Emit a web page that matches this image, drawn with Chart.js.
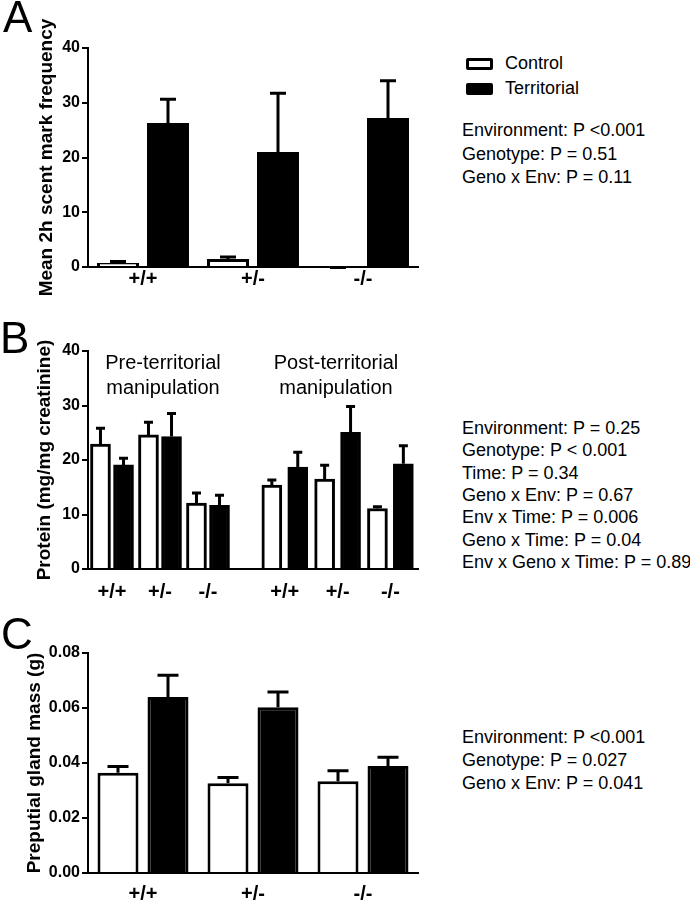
<!DOCTYPE html>
<html><head><meta charset="utf-8">
<script src="https://cdn.jsdelivr.net/npm/chart.js@4.4.1/dist/chart.umd.min.js"></script>
<style>
html,body{margin:0;padding:0;background:#fff;}
#wrap{position:relative;width:690px;height:904px;overflow:hidden;font-family:"Liberation Sans",Arial,sans-serif;color:#000;}
canvas{position:absolute;left:0;}
.letter{position:absolute;font-size:44px;line-height:1;}
.stats{position:absolute;left:462px;font-size:18px;white-space:nowrap;}
.note{position:absolute;width:200px;text-align:center;font-size:20px;line-height:25px;}
.leg{position:absolute;left:505px;font-size:18px;line-height:23px;}
.box{position:absolute;left:466px;width:21px;height:6px;border:3px solid #000;border-radius:2px;}
</style></head>
<body>
<div id="wrap">
  <canvas id="cA" width="430" height="295" style="top:0px"></canvas>
  <canvas id="cB" width="430" height="305" style="top:295px"></canvas>
  <canvas id="cC" width="430" height="304" style="top:600px"></canvas>

  <div class="letter" style="left:3px;top:-5px">A</div>
  <div class="letter" style="left:0px;top:316px">B</div>
  <div class="letter" style="left:1px;top:612px">C</div>

  <div class="box" style="top:58px;background:#fff"></div>
  <div class="leg" style="top:52px">Control</div>
  <div class="box" style="top:83px;background:#000"></div>
  <div class="leg" style="top:77px">Territorial</div>

  <div class="stats" style="top:119px;line-height:23.5px">Environment: P &lt;0.001<br>Genotype: P = 0.51<br>Geno x Env: P = 0.11</div>
  <div class="stats" style="top:417px;line-height:22.33px">Environment: P = 0.25<br>Genotype: P &lt; 0.001<br>Time: P = 0.34<br>Geno x Env: P = 0.67<br>Env x Time: P = 0.006<br>Geno x Time: P = 0.04<br>Env x Geno x Time: P = 0.89</div>
  <div class="stats" style="top:726px;line-height:23px">Environment: P &lt;0.001<br>Genotype: P = 0.027<br>Geno x Env: P = 0.041</div>

  <div class="note" style="left:63px;top:350px">Pre-territorial<br>manipulation</div>
  <div class="note" style="left:236px;top:350px">Post-territorial<br>manipulation</div>
</div>
<script>
// ---------------- DATA ----------------
const genotypes = ['+/+', '+/-', '-/-'];

// Panel A: mean 2h scent mark frequency
const scentControl = [0.75, 1.45, 0.15];
const scentControlErr = [0.55, 0.65, 0.05];
const scentTerritorial = [26.3, 21.0, 27.2];
const scentTerritorialErr = [4.6, 11.0, 7.1];

// Panel B: protein (mg/mg creatinine)
const proteinPreControl = [22.9, 24.6, 12.1];
const proteinPreControlErr = [3.2, 2.6, 2.1];
const proteinPreTerritorial = [19.1, 24.3, 11.7];
const proteinPreTerritorialErr = [1.5, 4.5, 2.1];
const proteinPostControl = [15.4, 16.5, 11.1];
const proteinPostControlErr = [1.2, 2.8, 0.6];
const proteinPostTerritorial = [18.7, 25.1, 19.3];
const proteinPostTerritorialErr = [3.0, 5.0, 3.6];
const proteinTickLabels = genotypes.concat(genotypes);

// Panel C: preputial gland mass (g)
const glandControl = [0.0365, 0.0326, 0.0334];
const glandControlErr = [0.0028, 0.0027, 0.0043];
const glandTerritorial = [0.0640, 0.0603, 0.0389];
const glandTerritorialErr = [0.0085, 0.0061, 0.0037];

// ---------------- LAYOUT / STYLE ----------------
Chart.defaults.font.family = "'Liberation Sans', Arial, sans-serif";
Chart.defaults.color = '#000';

const errorBars = {
  id: 'errorBars',
  afterDatasetsDraw(chart, args, opts) {
    const ctx = chart.ctx;
    const lw = opts.lineWidth || 3;
    const cap = opts.capWidth || 12;
    ctx.save();
    ctx.strokeStyle = '#000';
    ctx.lineWidth = lw;
    chart.data.datasets.forEach((ds, i) => {
      if (!ds.errors) return;
      const meta = chart.getDatasetMeta(i);
      const ys = chart.scales[meta.yAxisID];
      meta.data.forEach((bar, j) => {
        const raw = ds.data[j];
        const val = (typeof raw === 'object') ? raw.y : raw;
        const top = ys.getPixelForValue(val + ds.errors[j]) + lw / 2;
        ctx.beginPath();
        ctx.moveTo(bar.x, bar.y);
        ctx.lineTo(bar.x, top);
        ctx.moveTo(bar.x - cap / 2, top);
        ctx.lineTo(bar.x + cap / 2, top);
        ctx.stroke();
      });
    });
    ctx.restore();
  }
};

function yAxis(max, step, title, titlePad, fmt) {
  const o = {
    min: 0, max: max,
    ticks: { stepSize: step, color: '#000', font: { size: 16, weight: 'bold' }, padding: 2 },
    grid: { drawOnChartArea: false, drawTicks: true, tickLength: 6, color: '#000', lineWidth: 2 },
    border: { display: true, color: '#000', width: 2 },
    title: { display: true, text: title, color: '#000', font: { size: 19, weight: 'bold' }, padding: { top: titlePad, bottom: 0 } },
    afterFit(s) { s.width = 88; }
  };
  if (fmt) o.ticks.callback = fmt;
  return o;
}

function xCat(height, pad) {
  return {
    ticks: { color: '#000', font: { size: 20, weight: 'bold' }, padding: pad, maxRotation: 0, autoSkip: false },
    grid: { display: false, drawTicks: false },
    border: { display: true, color: '#000', width: 2 },
    afterFit(s) { s.height = height; }
  };
}

const ctrlStyle = { backgroundColor: '#fff', borderColor: '#000', borderWidth: 3 };
const terrStyle = { backgroundColor: '#000', borderColor: '#000', borderWidth: 3 };

function baseOptions(padTop, cap, scales) {
  return {
    responsive: false, animation: false, devicePixelRatio: 1,
    layout: { padding: { top: padTop, right: 12, left: 0, bottom: 0 } },
    plugins: { legend: { display: false }, tooltip: { enabled: false }, errorBars: { capWidth: cap, lineWidth: 3 } },
    scales: scales
  };
}

// Panel A
new Chart(document.getElementById('cA'), {
  type: 'bar',
  data: {
    labels: genotypes,
    datasets: [
      Object.assign({ label: 'Control', data: scentControl, errors: scentControlErr, categoryPercentage: 0.909, barPercentage: 0.84 }, ctrlStyle),
      Object.assign({ label: 'Territorial', data: scentTerritorial, errors: scentTerritorialErr, categoryPercentage: 0.909, barPercentage: 0.84 }, terrStyle)
    ]
  },
  options: baseOptions(48, 16, { x: xCat(28, 0), y: yAxis(40, 10, 'Mean 2h scent mark frequency', 35) }),
  plugins: [errorBars]
});

// Panel B (pre and post groups on a linear axis with a gap between them)
const slotsB = [0, 1, 2, 3.6, 4.7, 5.8];
const pairOffsetB = [0.24, 0.24, 0.24, 0.27, 0.27, 0.27];
const ctrlB = proteinPreControl.concat(proteinPostControl);
const ctrlBErr = proteinPreControlErr.concat(proteinPostControlErr);
const terrB = proteinPreTerritorial.concat(proteinPostTerritorial);
const terrBErr = proteinPreTerritorialErr.concat(proteinPostTerritorialErr);

new Chart(document.getElementById('cB'), {
  type: 'bar',
  data: {
    datasets: [
      Object.assign({ label: 'Control', data: ctrlB.map((v, i) => ({ x: slotsB[i] - pairOffsetB[i], y: v })), errors: ctrlBErr, grouped: false, barThickness: 20 }, ctrlStyle),
      Object.assign({ label: 'Territorial', data: terrB.map((v, i) => ({ x: slotsB[i] + pairOffsetB[i], y: v })), errors: terrBErr, grouped: false, barThickness: 20 }, terrStyle)
    ]
  },
  options: baseOptions(56, 9, {
    x: {
      type: 'linear', min: -0.5, max: 6.375, offset: false,
      afterBuildTicks(s) { s.ticks = slotsB.map(v => ({ value: v })); },
      ticks: { color: '#000', font: { size: 20, weight: 'bold' }, padding: 11, maxRotation: 0, autoSkip: false,
               callback: (v, i) => proteinTickLabels[i] },
      grid: { display: false, drawTicks: false, offset: false },
      border: { display: true, color: '#000', width: 2 },
      afterFit(s) { s.height = 31; }
    },
    y: yAxis(40, 10, 'Protein (mg/mg creatinine)', 33)
  }),
  plugins: [errorBars]
});

// Panel C
new Chart(document.getElementById('cC'), {
  type: 'bar',
  data: {
    labels: genotypes,
    datasets: [
      Object.assign({ label: 'Control', data: glandControl, errors: glandControlErr, categoryPercentage: 0.909, barPercentage: 0.82 }, ctrlStyle),
      Object.assign({ label: 'Territorial', data: glandTerritorial, errors: glandTerritorialErr, categoryPercentage: 0.909, barPercentage: 0.82 }, terrStyle)
    ]
  },
  options: baseOptions(53, 21, { x: xCat(31, 9), y: yAxis(0.08, 0.02, 'Preputial gland mass (g)', 23, v => v.toFixed(2)) }),
  plugins: [errorBars]
});
</script>
</body></html>
